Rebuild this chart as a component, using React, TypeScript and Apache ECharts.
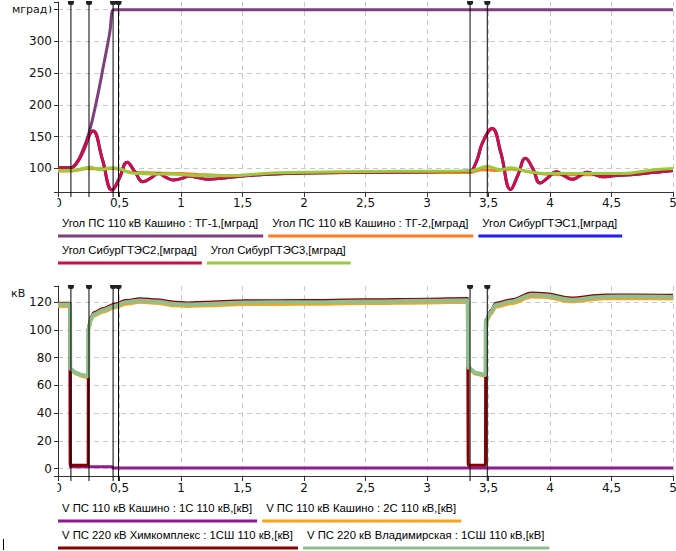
import React, { useEffect, useRef } from 'react';
import * as echarts from 'echarts';

// ---------- DATA ----------
const eventTimes = [0.105, 0.252, 0.448, 0.492, 3.35, 3.49];

const angleSeriesNames = [
  'Угол ПС 110 кВ Кашино : ТГ-1,[мград]',
  'Угол ПС 110 кВ Кашино : ТГ-2,[мград]',
  'Угол СибурГТЭС1,[мград]',
  'Угол СибурГТЭС2,[мград]',
  'Угол СибурГТЭС3,[мград]',
];
const voltageSeriesNames = [
  'V ПС 110 кВ Кашино : 1С 110 кВ,[кВ]',
  'V ПС 110 кВ Кашино : 2С 110 кВ,[кВ]',
  'V ПС 220 кВ Химкомплекс : 1СШ 110 кВ,[кВ]',
  'V ПС 220 кВ Владимирская : 1СШ 110 кВ,[кВ]',
];
const angleUnit = 'мград';
const voltageUnit = 'кВ';

// [time s, angle mgrad]
const tg1Angle: number[][] = [
  [0, 100.5], [0.1, 100.5], [0.15, 109], [0.2, 128], [0.255, 158], [0.315, 208],
  [0.368, 260], [0.42, 313], [0.45, 350], [0.47, 350], [5, 350],
];
const tg2Angle: number[][] = [
  [0, 96], [0.1, 96], [0.25, 100], [0.35, 99.5], [0.45, 100], [0.6, 94], [0.8, 93],
  [1.0, 92], [1.2, 90], [1.45, 89], [1.7, 91], [2, 93], [2.5, 93.5], [3, 93.5],
  [3.34, 93.5], [3.45, 98], [3.55, 97], [3.68, 99], [3.85, 94], [4.0, 90.5],
  [4.4, 90], [4.7, 92], [5, 97],
];
const sibur1Angle: number[][] = [
  [0, 101], [0.1, 101], [0.15, 108], [0.2, 125], [0.285, 159], [0.36, 115],
  [0.44, 66], [0.5, 85], [0.562, 110], [0.625, 95], [0.69, 79], [0.755, 85],
  [0.816, 92], [0.877, 86], [0.937, 82], [1.0, 84], [1.07, 88], [1.13, 86],
  [1.22, 83], [1.35, 85], [1.5, 88], [1.7, 91], [2, 93], [2.5, 94], [3, 95],
  [3.34, 95.5], [3.4, 110], [3.45, 140], [3.53, 163], [3.6, 125], [3.68, 67],
  [3.74, 90], [3.8, 116], [3.86, 100], [3.92, 77], [3.98, 85], [4.05, 95],
  [4.11, 89], [4.18, 83], [4.24, 88], [4.3, 94], [4.36, 91], [4.42, 87],
  [4.54, 89], [4.7, 91], [4.85, 94], [5, 97],
];
const sibur2Angle: number[][] = [
  [0, 101], [0.1, 101], [0.15, 108], [0.2, 125], [0.285, 159], [0.36, 115],
  [0.44, 66], [0.5, 85], [0.562, 110], [0.625, 95], [0.69, 79], [0.755, 85],
  [0.816, 92], [0.877, 86], [0.937, 82], [1.0, 84], [1.07, 88], [1.13, 86],
  [1.22, 83], [1.35, 85], [1.5, 88], [1.7, 91], [2, 93], [2.5, 94], [3, 95],
  [3.34, 95.5], [3.4, 110], [3.45, 140], [3.53, 163], [3.6, 125], [3.68, 67],
  [3.74, 90], [3.8, 116], [3.86, 100], [3.92, 77], [3.98, 85], [4.05, 95],
  [4.11, 89], [4.18, 83], [4.24, 88], [4.3, 94], [4.36, 91], [4.42, 87],
  [4.54, 89], [4.7, 91], [4.85, 94], [5, 97],
];
const sibur3Angle: number[][] = [
  [0, 97], [0.1, 97], [0.18, 99], [0.26, 102], [0.34, 98], [0.44, 101],
  [0.5, 99.5], [0.6, 93], [0.75, 91.5], [0.95, 91], [1.15, 88.5], [1.4, 88.5],
  [1.7, 92.5], [2, 94], [2.3, 95], [2.8, 95.5], [3.34, 96], [3.49, 103],
  [3.6, 98], [3.68, 101], [3.8, 96], [3.97, 92], [4.3, 92], [4.6, 92],
  [4.8, 97], [5, 100],
];

// [time s, voltage kV]
const kashino1C: number[][] = [
  [0, 118], [0.098, 118], [0.1, 1.3], [0.44, 1.3], [0.445, 0.4], [5, 0.4],
];
const kashino2C: number[][] = [
  [0, 117], [0.098, 117], [0.1, 71], [0.15, 68], [0.2, 66.5], [0.245, 65.5],
  [0.247, 100], [0.27, 107], [0.29, 110], [0.37, 113], [0.46, 116], [0.55, 118.5],
  [0.67, 120], [0.8, 119.2], [0.95, 117.4], [1.05, 117], [1.2, 117.4], [1.5, 118.3],
  [2, 118.5], [2.5, 119], [3, 119.5], [3.33, 120], [3.335, 72], [3.4, 68],
  [3.475, 66.5], [3.478, 104.5], [3.52, 111.5], [3.56, 116.5], [3.69, 119],
  [3.85, 123.8], [3.95, 123.5], [4.17, 120.3], [4.44, 122.5], [4.7, 122.5], [5, 122.3],
];
const khimkompleks: number[][] = [
  [0, 119.3], [0.098, 119.3], [0.1, 2.5], [0.245, 2.5], [0.247, 102], [0.27, 109.5],
  [0.29, 112.5], [0.37, 115.5], [0.46, 118.5], [0.55, 121.2], [0.67, 122.5],
  [0.8, 121.7], [0.95, 120], [1.05, 119.5], [1.2, 120], [1.5, 121], [2, 121.2],
  [2.5, 121.7], [3, 122.2], [3.33, 122.7], [3.335, 2.5], [3.475, 2.5], [3.478, 107],
  [3.52, 114], [3.56, 119.2], [3.69, 121.8], [3.85, 126.6], [3.95, 126.3],
  [4.17, 123], [4.44, 125.2], [4.7, 125.3], [5, 125],
];
const vladimirskaya: number[][] = [
  [0, 118.3], [0.098, 118.3], [0.1, 72], [0.15, 69], [0.2, 67.5], [0.245, 66.5],
  [0.247, 101], [0.27, 108.3], [0.29, 111.2], [0.37, 114.4], [0.46, 117.3],
  [0.55, 120], [0.67, 121.3], [0.8, 120.5], [0.95, 118.8], [1.05, 118.3],
  [1.2, 118.8], [1.5, 119.8], [2, 120], [2.5, 120.5], [3, 121], [3.33, 121.5],
  [3.335, 73], [3.4, 69], [3.475, 67.5], [3.478, 106], [3.52, 113], [3.56, 118],
  [3.69, 120.6], [3.85, 125.4], [3.95, 125], [4.17, 121.8], [4.44, 124],
  [4.7, 124.1], [5, 123.8],
];

const angleData = [tg1Angle, tg2Angle, sibur1Angle, sibur2Angle, sibur3Angle];
const voltageData = [kashino1C, kashino2C, khimkompleks, vladimirskaya];

// ---------- STYLE ----------
const angleColors = ['#7e3f7c', '#ff7a21', '#1f1fff', '#cf0f3f', '#97cc3a'];
const voltageColors = ['#8e1a8e', '#f8a41c', '#8b0000', '#8fbf8f'];
const voltageWidths = [3, 3, 3, 4];
const legendFont = '11.3px "Liberation Sans", Arial, sans-serif';
const axisFont = 'DejaVu Sans';

function measure(text: string): number {
  const c = document.createElement('canvas').getContext('2d');
  if (!c) return text.length * 5.5;
  c.font = legendFont;
  return c.measureText(text).width;
}

function legendGraphics(names: string[], colors: string[], rows: number[][], rowY: number[]) {
  const out: any[] = [];
  rows.forEach((row, ri) => {
    let x = 58;
    row.forEach((idx) => {
      const w = measure(names[idx]) + 9;
      out.push({
        type: 'text',
        x: x + 4,
        y: rowY[ri],
        style: {
          text: names[idx],
          font: legendFont,
          fill: '#000',
          verticalAlign: 'middle',
        },
        z: 20,
      });
      out.push({
        type: 'rect',
        shape: { x, y: rowY[ri] + 11.5, width: w, height: 3 },
        style: { fill: colors[idx] },
        z: 20,
      });
      x += w + 5;
    });
  });
  return out;
}

function eventRender(params: any, api: any) {
  const x = api.coord([api.value(0), api.value(1)])[0];
  const cs = params.coordSys;
  return {
    type: 'group',
    children: [
      {
        type: 'line',
        shape: { x1: x, y1: cs.y, x2: x, y2: cs.y + cs.height + 5 },
        style: { stroke: '#000', lineWidth: 1 },
      },
      {
        type: 'rect',
        shape: { x: x - 3, y: cs.y - 1, width: 6, height: 4, r: [0, 0, 2, 2] },
        style: { fill: '#222' },
      },
    ],
  };
}

export default function App() {
  const ref = useRef<HTMLDivElement>(null);

  useEffect(() => {
    if (!ref.current) return;
    const chart = echarts.init(ref.current, undefined, { renderer: 'svg' });

    const xAxisCommon = (gi: number, margin: number) => ({
      type: 'value',
      gridIndex: gi,
      min: 0,
      max: 5,
      interval: 0.5,
      axisLine: { show: true, onZero: false, lineStyle: { color: '#333', width: 1 } },
      axisTick: { show: true, length: 5, lineStyle: { color: '#333' } },
      axisLabel: {
        margin,
        fontSize: 12,
        fontFamily: axisFont,
        color: '#111',
        formatter: (v: number) => String(v).replace('.', ','),
      },
      splitLine: { show: true, lineStyle: { type: [5, 4], color: '#c9c9c9', width: 1 } },
    });

    const yAxisCommon = (gi: number, min: number, max: number, step: number, split: number) => ({
      type: 'value',
      gridIndex: gi,
      min,
      max,
      splitNumber: split,
      minInterval: step,
      maxInterval: step,
      axisLine: { show: true, onZero: false, lineStyle: { color: '#333', width: 1 } },
      axisTick: { show: true, length: 4, lineStyle: { color: '#333' } },
      axisLabel: {
        margin: 6,
        fontSize: 12,
        fontFamily: axisFont,
        color: '#111',
        formatter: (v: number) => (Math.abs(v / step - Math.round(v / step)) < 1e-6 ? String(v) : ''),
      },
      splitLine: {
        show: true,
        showMinLine: false,
        showMaxLine: false,
        lineStyle: { type: [5, 4], color: '#c9c9c9', width: 1 },
      },
    });

    const series: any[] = [];
    angleData.forEach((d, i) => {
      series.push({
        type: 'line',
        name: angleSeriesNames[i],
        xAxisIndex: 0,
        yAxisIndex: 0,
        data: d,
        showSymbol: false,
        smooth: 0.45,
        lineStyle: { color: angleColors[i], width: 3 },
        itemStyle: { color: angleColors[i] },
      });
    });
    voltageData.forEach((d, i) => {
      series.push({
        type: 'line',
        name: voltageSeriesNames[i],
        xAxisIndex: 1,
        yAxisIndex: 1,
        data: d,
        showSymbol: false,
        smooth: 0.3,
        smoothMonotone: 'x',
        lineStyle: { color: voltageColors[i], width: voltageWidths[i] },
        itemStyle: { color: voltageColors[i] },
      });
    });
    [0, 1].forEach((gi) => {
      series.push({
        type: 'custom',
        xAxisIndex: gi,
        yAxisIndex: gi,
        data: eventTimes.map((t) => [t, gi === 0 ? 100 : 50]),
        renderItem: eventRender,
        clip: false,
        silent: true,
        z: 10,
      });
    });

    const graphic: any[] = [
      {
        type: 'text',
        x: 11,
        y: 9,
        style: {
          text: angleUnit,
          fontSize: 11,
          fontFamily: axisFont,
          fill: '#111',
          verticalAlign: 'middle',
          backgroundColor: '#fff',
          padding: [1, 2, 1, 1],
        },
        z: 30,
      },
      {
        type: 'text',
        x: 11,
        y: 293,
        style: {
          text: voltageUnit,
          fontSize: 11,
          fontFamily: axisFont,
          fill: '#111',
          verticalAlign: 'middle',
        },
        z: 30,
      },
      { type: 'rect', shape: { x: 44, y: 196, width: 13.5, height: 16 }, style: { fill: '#fff' }, z: 30 },
      { type: 'rect', shape: { x: 44, y: 481, width: 13.5, height: 16 }, style: { fill: '#fff' }, z: 30 },
      { type: 'line', shape: { x1: 3.5, y1: 539, x2: 3.5, y2: 550 }, style: { stroke: '#000', lineWidth: 1 }, z: 30 },
      ...legendGraphics(angleSeriesNames, angleColors, [[0, 1, 2], [3, 4]], [223, 250]),
      ...legendGraphics(voltageSeriesNames, voltageColors, [[0, 1], [2, 3]], [508, 535]),
    ];

    chart.setOption({
      animation: false,
      backgroundColor: '#fff',
      grid: [
        { left: 58, top: 2, width: 615, height: 190, outerBoundsMode: 'none', containLabel: false },
        { left: 58, top: 286, width: 615, height: 190, outerBoundsMode: 'none', containLabel: false },
      ],
      xAxis: [xAxisCommon(0, 5), xAxisCommon(1, 6)],
      yAxis: [yAxisCommon(0, 63, 362, 50, 6), yAxisCommon(1, -5.3, 131.7, 20, 7)],
      series,
      graphic,
    });

    return () => chart.dispose();
  }, []);

  return (
    <div
      ref={ref}
      style={{ position: 'absolute', left: 0, top: 0, width: 676, height: 551, background: '#fff' }}
    />
  );
}
